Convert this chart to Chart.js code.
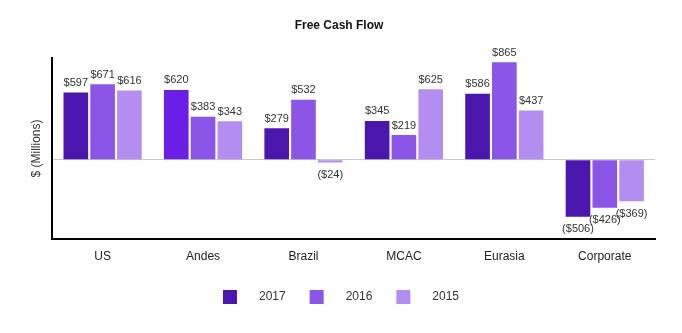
<!DOCTYPE html>
<html>
<head>
<meta charset="utf-8">
<script src="https://cdn.jsdelivr.net/npm/chart.js@4/dist/chart.umd.min.js"></script>
<style>
  html, body { margin: 0; padding: 0; background: #fff; }
  #wrap { width: 682px; height: 333px; }
</style>
</head>
<body>
<div id="wrap"><canvas id="fcfChart" width="682" height="333"></canvas></div>
<script>
// --- data ---
const categories = ['US', 'Andes', 'Brazil', 'MCAC', 'Eurasia', 'Corporate'];
const years = ['2017', '2016', '2015'];
const fcf2017 = [597, 620, 279, 345, 586, -506];
const fcf2016 = [671, 383, 532, 219, 865, -426];
const fcf2015 = [616, 343, -24, 625, 437, -369];
const yRange = [-700, 900];

const colors = ['#4b16ad', '#8b55e8', '#b38ef0'];
const andesColor = '#6a1ee6';

const FONT = '"Liberation Sans", Arial, sans-serif';

function money(v) {
    return v < 0 ? '($' + (-v) + ')' : '$' + v;
}

// value labels above / below each bar
const valueLabels = {
    id: 'valueLabels',
    afterDatasetsDraw(chart) {
        const ctx = chart.ctx;
        ctx.save();
        ctx.font = '11px ' + FONT;
        ctx.fillStyle = '#333';
        ctx.textAlign = 'center';
        chart.data.datasets.forEach((ds, i) => {
            chart.getDatasetMeta(i).data.forEach((bar, j) => {
                const v = ds.data[j];
                if (v >= 0) {
                    ctx.textBaseline = 'bottom';
                    ctx.fillText(money(v), bar.x, bar.y - 4);
                } else {
                    ctx.textBaseline = 'top';
                    ctx.fillText(money(v), bar.x, bar.y + 7);
                }
            });
        });
        ctx.restore();
    }
};

// legend drawn under the chart
const bottomLegend = {
    id: 'bottomLegend',
    afterDraw(chart) {
        const ctx = chart.ctx;
        ctx.save();
        ctx.font = '12px ' + FONT;
        const box = 14, gap = 22, spacing = 24;
        const widths = chart.data.datasets.map(ds => box + gap + ctx.measureText(ds.label).width);
        const total = widths.reduce((a, b) => a + b, 0) + spacing * (widths.length - 1);
        let x = chart.width / 2 - total / 2;
        const cy = 297;
        chart.data.datasets.forEach((ds, i) => {
            ctx.fillStyle = colors[i];
            ctx.fillRect(x, cy - box / 2, box, box);
            ctx.fillStyle = '#333';
            ctx.textBaseline = 'middle';
            ctx.textAlign = 'left';
            ctx.fillText(ds.label, x + box + gap, cy);
            x += widths[i] + spacing;
        });
        ctx.restore();
    }
};

const series = [fcf2017, fcf2016, fcf2015];
const datasets = series.map((vals, i) => ({
    label: years[i],
    data: vals,
    backgroundColor: i === 0 ? categories.map(c => c === 'Andes' ? andesColor : colors[0]) : colors[i],
    borderWidth: 0,
    categoryPercentage: 0.8,
    barPercentage: 0.92
}));

new Chart(document.getElementById('fcfChart'), {
    type: 'bar',
    data: { labels: categories, datasets: datasets },
    options: {
        responsive: false,
        animation: false,
        layout: { padding: { left: 23, right: 27, top: 0, bottom: 58 } },
        plugins: {
            legend: { display: false },
            tooltip: { enabled: false },
            title: {
                display: true,
                text: 'Free Cash Flow',
                color: '#111',
                font: { family: FONT, size: 12, weight: 'bold' },
                padding: { top: 18, bottom: 26 }
            }
        },
        scales: {
            x: {
                grid: { display: false, drawTicks: false },
                border: { display: true, color: '#000', width: 2 },
                ticks: { color: '#222', padding: 11, font: { family: FONT, size: 12 } }
            },
            y: {
                min: yRange[0],
                max: yRange[1],
                ticks: { display: false, stepSize: 100 },
                grid: {
                    drawTicks: false,
                    color: c => c.tick && c.tick.value === 0 ? '#c8c8c8' : 'rgba(0,0,0,0)',
                    lineWidth: 1
                },
                border: { display: true, color: '#000', width: 2 },
                title: {
                    display: true,
                    text: '$ (Millions)',
                    color: '#333',
                    font: { family: FONT, size: 12 },
                    padding: { top: 6, bottom: 9 }
                }
            }
        }
    },
    plugins: [valueLabels, bottomLegend]
});
</script>
</body>
</html>
